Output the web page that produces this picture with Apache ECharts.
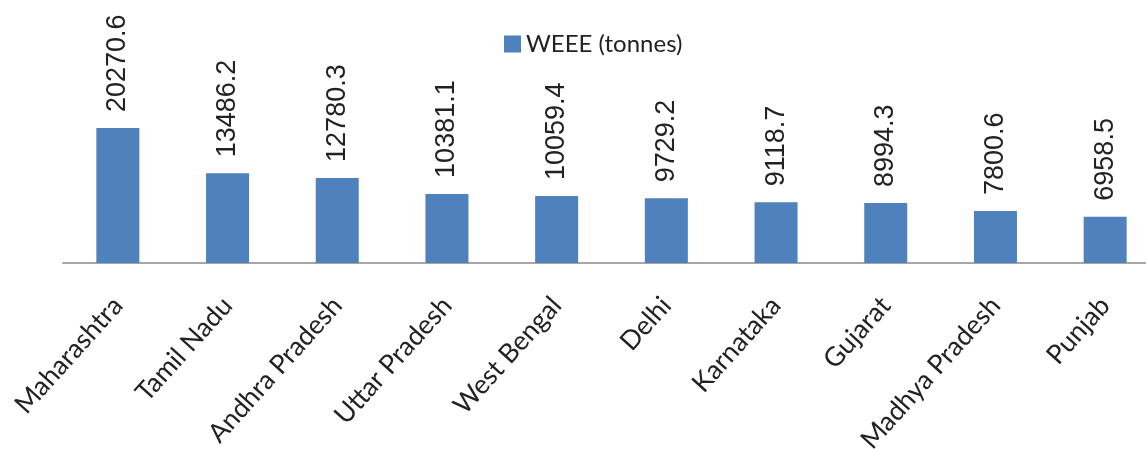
<!DOCTYPE html>
<html>
<head>
<meta charset="utf-8">
<script src="https://cdn.jsdelivr.net/npm/echarts@6/dist/echarts.min.js"></script>
<style>
  html, body { margin: 0; padding: 0; background: #fff; }
  #weeeChart { width: 1146px; height: 449px; }
</style>
</head>
<body>
<div id="weeeChart"></div>
<script>
// states, ordered as in the figure
var states = ["Maharashtra", "Tamil Nadu", "Andhra Pradesh", "Uttar Pradesh", "West Bengal",
  "Delhi", "Karnataka", "Gujarat", "Madhya Pradesh", "Punjab"];
// WEEE generated (tonnes)
var weeeTonnes = [20270.6, 13486.2, 12780.3, 10381.1, 10059.4, 9729.2, 9118.7, 8994.3, 7800.6, 6958.5];

var chart = echarts.init(document.getElementById("weeeChart"));
chart.setOption({
  animation: false,
  legend: {
    left: 499,
    top: 27,
    itemWidth: 17,
    itemHeight: 17,
    itemGap: 6,
    icon: "rect",
    textStyle: { fontFamily: "Lato", fontSize: 24, color: "#222" },
    data: ["WEEE (tonnes)"]
  },
  grid: {
    top: 30,
    bottom: 186, // baseline at y=263
    left: 63,
    right: -14,
    outerBoundsMode: "none"
  },
  xAxis: {
    type: "category",
    data: states,
    axisLine: { lineStyle: { color: "#a6a6a6", width: 2 } },
    axisTick: { show: false },
    axisLabel: {
      rotate: 48,
      margin: 38,
      interval: 0,
      fontFamily: "Lato",
      fontSize: 26.5,
      color: "#222"
    }
  },
  yAxis: {
    type: "value",
    min: 0,
    max: 35000,
    show: false
  },
  series: [{
    name: "WEEE (tonnes)",
    type: "bar",
    data: weeeTonnes,
    barWidth: 43,
    itemStyle: { color: "#4f81bd" },
    label: {
      show: true,
      position: "top",
      distance: 16,
      rotate: 90,
      align: "left",
      verticalAlign: "middle",
      fontFamily: "Liberation Sans",
      fontSize: 27,
      color: "#222"
    }
  }]
});
</script>
</body>
</html>
